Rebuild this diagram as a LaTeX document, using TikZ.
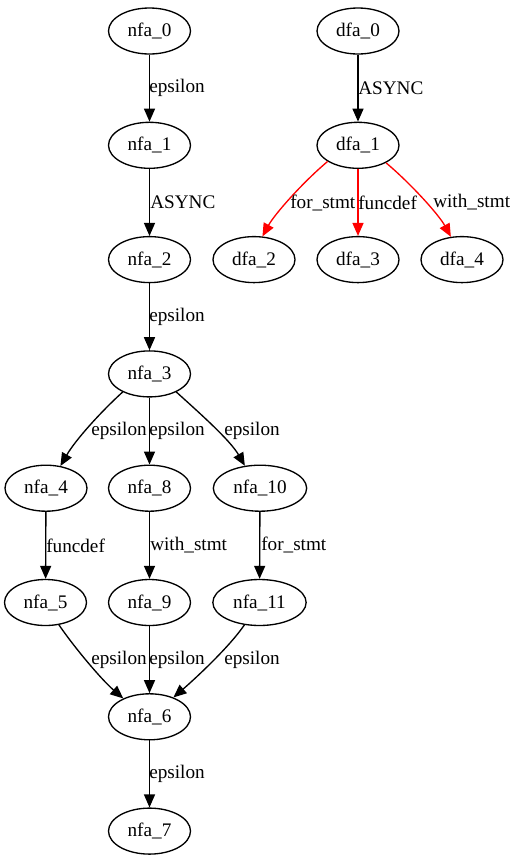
\documentclass[tikz,border=0pt]{standalone}
\usepackage{fontspec}
\setmainfont{Liberation Serif}
\usepackage{tikz}
\usetikzlibrary{shapes.geometric,arrows.meta}
\definecolor{gvred}{RGB}{255,0,0}

\begin{document}
\begin{tikzpicture}[x=0.75pt,y=0.75pt,yscale=-1,xscale=1,
  state/.style={ellipse,draw,line width=1pt,minimum width=61.5pt,minimum height=34.5pt,inner sep=0pt,font=\fontsize{14.4}{17}\selectfont},
  wstate/.style={state,minimum width=70pt},
  edge/.style={line width=1pt,-{Triangle[length=9.75pt,width=8.25pt]}},
  redge/.style={edge,color=gvred},
  lbl/.style={anchor=west,inner sep=0pt,font=\fontsize{14.4}{17}\selectfont}]
\useasboundingbox (0,0) rectangle (514,861);

%Shape: Ellipse (nfa)
\node[state] (nfa0) at (149.5,31) {nfa\_0};
\node[state] (nfa1) at (149.5,145.3) {nfa\_1};
\node[state] (nfa2) at (149.5,259.6) {nfa\_2};
\node[state] (nfa3) at (149.5,373.9) {nfa\_3};
\node[state] (nfa4) at (46,488.2) {nfa\_4};
\node[state] (nfa8) at (149.5,488.2) {nfa\_8};
\node[wstate] (nfa10) at (260,488.2) {nfa\_10};
\node[state] (nfa5) at (45.5,602.5) {nfa\_5};
\node[state] (nfa9) at (149.5,602.5) {nfa\_9};
\node[wstate] (nfa11) at (259.5,602.5) {nfa\_11};
\node[state] (nfa6) at (149.5,716.8) {nfa\_6};
\node[state] (nfa7) at (149.5,831.1) {nfa\_7};

%Shape: Ellipse (dfa)
\node[state] (dfa0) at (358,31) {dfa\_0};
\node[state] (dfa1) at (358,145.3) {dfa\_1};
\node[state] (dfa2) at (254,259.6) {dfa\_2};
\node[state] (dfa3) at (358,259.6) {dfa\_3};
\node[state] (dfa4) at (462,259.6) {dfa\_4};

%Straight Lines
\draw[edge] (nfa0) -- (nfa1);
\draw[edge] (nfa1) -- (nfa2);
\draw[edge] (nfa2) -- (nfa3);
\draw[edge] (nfa3) -- (nfa8);
\draw[edge] (nfa4) -- (nfa5);
\draw[edge] (nfa8) -- (nfa9);
\draw[edge] (nfa10) -- (nfa11);
\draw[edge] (nfa9) -- (nfa6);
\draw[edge] (nfa6) -- (nfa7);
\draw[edge] (dfa0) -- (dfa1);
\draw[redge] (dfa1) -- (dfa3);

%Curve Lines
\draw[edge] (nfa3.-146) .. controls +(-22,20) and +(15,-26) .. (nfa4.57);
\draw[edge] (nfa3.-34) .. controls +(22,20) and +(-15,-26) .. (nfa10.124);
\draw[edge] (nfa5.-59) .. controls +(15,22) and +(-22,-19) .. (nfa6.145);
\draw[edge] (nfa11.-124) .. controls +(-15,22) and +(22,-19) .. (nfa6.39);
\draw[redge] (dfa1.-152) .. controls +(-25,21) and +(12,-22) .. (dfa2.70);
\draw[redge] (dfa1.-32) .. controls +(25,21) and +(-12,-22) .. (dfa4.116);

% Text Node
\node[lbl] (l01) at (149,88) {epsilon};
\node[lbl] (l12) at (150,202.5) {ASYNC};
\node[lbl] (l23) at (149,316.8) {epsilon};
\node[lbl] (l34) at (91,431) {epsilon};
\node[lbl] (l38) at (149,431) {epsilon};
\node[lbl] (l310) at (224,431) {epsilon};
\node[lbl] (l45) at (46,545.4) {funcdef};
\node[lbl] (l89) at (150,545.4) {with\_stmt};
\node[lbl] (l1011) at (261,545.4) {for\_stmt};
\node[lbl] (l56) at (91,660) {epsilon};
\node[lbl] (l96) at (149,660) {epsilon};
\node[lbl] (l116) at (224,660) {epsilon};
\node[lbl] (l67) at (149,774) {epsilon};
\node[lbl] (m01) at (358,88) {ASYNC};
\node[lbl] (m12) at (290,202.5) {for\_stmt};
\node[lbl] (m13) at (358,202.5) {funcdef};
\node[lbl] (m14) at (433,202.5) {with\_stmt};

\end{tikzpicture}
\end{document}
